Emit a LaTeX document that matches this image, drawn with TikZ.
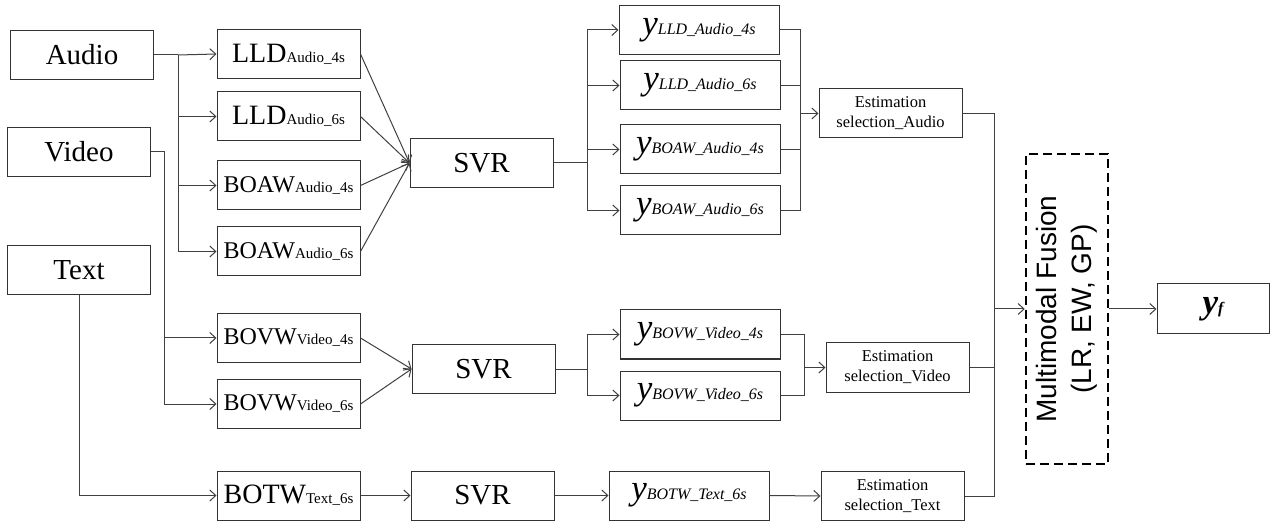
\documentclass[tikz,border=0pt]{standalone}
\usepackage{fontspec}
\setmainfont{Liberation Serif}
\setsansfont{Liberation Sans}
\usetikzlibrary{arrows.meta}

% small text set on the main baseline
\newcommand{\subtxt}[1]{{\fontsize{15}{15}\selectfont #1}}
\newcommand{\ylab}[1]{{\fontsize{35}{35}\selectfont\itshape y}{\fontsize{16}{16}\selectfont\itshape #1}}

\begin{document}
\begin{tikzpicture}[x=1pt, y=-1pt, line width=1pt, color=black!75, >={Straight Barb[length=6pt,width=11pt]},
    every node/.style={draw=black!80, text=black, rectangle, inner sep=0pt, minimum width=143pt, minimum height=49pt},
    src/.style={font=\fontsize{29}{29}\selectfont},
    feat/.style={font=\fontsize{28}{28}\selectfont},
    featb/.style={font=\fontsize{24}{24}\selectfont},
    pred/.style={minimum width=160pt},
    est/.style={align=center, font=\fontsize{16.5}{20}\selectfont}]
    \useasboundingbox (0,0) rectangle (1272,521);

    % inputs
    \node[src] (audio) at (82, 55) {Audio};
    \node[src] (video) at (79, 152) {Video};
    \node[src] (text) at (79, 270) {Text};

    % features
    \node[feat] (lA4) at (288.5, 54) {LLD\subtxt{Audio\_4s}};
    \node[feat] (lA6) at (288.5, 116.5) {LLD\subtxt{Audio\_6s}};
    \node[featb] (bA4) at (288.5, 185.5) {BOAW\subtxt{Audio\_4s}};
    \node[featb] (bA6) at (288.5, 251.5) {BOAW\subtxt{Audio\_6s}};
    \node[featb] (bV4) at (288.5, 338) {BOVW\subtxt{Video\_4s}};
    \node[featb] (bV6) at (288.5, 404) {BOVW\subtxt{Video\_6s}};
    \node[feat] (bT6) at (288.5, 495.5) {BOTW\subtxt{Text\_6s}};

    % regressors
    \node[src] (svrA) at (481.5, 163) {SVR};
    \node[src] (svrV) at (483.5, 369) {SVR};
    \node[src] (svrT) at (482.5, 495.5) {SVR};

    % predictions
    \node[pred] (yA1) at (699, 30) {\ylab{LLD\_Audio\_4s}};
    \node[pred] (yA2) at (700, 85.5) {\ylab{LLD\_Audio\_6s}};
    \node[pred] (yA3) at (700, 149.5) {\ylab{BOAW\_Audio\_4s}};
    \node[pred] (yA4) at (700, 210.5) {\ylab{BOAW\_Audio\_6s}};
    \node[pred] (yV4) at (700, 334.5) {\ylab{BOVW\_Video\_4s}};
    \node[pred] (yV6) at (700, 395.5) {\ylab{BOVW\_Video\_6s}};
    \node[pred] (yT6) at (689, 495.5) {\ylab{BOTW\_Text\_6s}};

    % selection
    \node[est] (estA) at (890.5, 113.5) {Estimation\\selection\_Audio};
    \node[est] (estV) at (897.5, 367.5) {Estimation\\selection\_Video};
    \node[est] (estT) at (892.5, 496) {Estimation\\selection\_Text};

    % fusion and output
    \node[draw=black, line width=2.5pt, dash pattern=on 9pt off 5pt, minimum width=82pt, minimum height=310pt,
      font=\sffamily\fontsize{28}{35}\selectfont] (fuse) at (1067, 309)
      {\rotatebox{90}{\begin{tabular}{@{}c@{}}Multimodal Fusion\\(LR, EW, GP)\end{tabular}}};
    \node[minimum width=112pt, minimum height=50pt, font=\fontsize{35}{35}\selectfont\bfseries\itshape] (yf) at (1213, 309)
      {y\fontsize{16}{16}\selectfont f};

    \coordinate (aS) at (178, 55);
    \coordinate (vS) at (164, 338);
    \coordinate (sA) at (587, 163);
    \coordinate (sV) at (587, 369);
    \coordinate (eA) at (800, 113.5);
    \coordinate (eV) at (804, 367.5);
    \coordinate (m) at (994, 309);

    \draw (audio.east) -- (aS);
    \draw[->] (aS) -- (lA4.west);
    \draw[->] (aS) |- (lA6.west);
    \draw[->] (aS) |- (bA4.west);
    \draw[->] (aS) |- (bA6.west);
    \draw[->] (video.east) -| (vS) -- (bV4.west);
    \draw[->] (vS) |- (bV6.west);
    \draw[->] (text.south) |- (bT6.west);

    \draw[->] (lA4.east) -- (svrA.west);
    \draw[->] (lA6.east) -- (svrA.west);
    \draw[->] (bA4.east) -- (svrA.west);
    \draw[->] (bA6.east) -- (svrA.west);
    \draw[->] (bV4.east) -- (svrV.west);
    \draw[->] (bV6.east) -- (svrV.west);
    \draw[->] (bT6.east) -- (svrT.west);

    \draw (svrA.east) -- (sA);
    \draw[->] (sA) |- (yA1.west);
    \draw[->] (sA) |- (yA2.west);
    \draw[->] (sA) |- (yA3.west);
    \draw[->] (sA) |- (yA4.west);
    \draw (svrV.east) -- (sV);
    \draw[->] (sV) |- (yV4.west);
    \draw[->] (sV) |- (yV6.west);
    \draw[->] (svrT.east) -- (yT6.west);

    \draw (yA1.east) -| (eA);
    \draw (yA2.east) -| (eA);
    \draw (yA3.east) -| (eA);
    \draw (yA4.east) -| (eA);
    \draw[->] (eA) -- (estA.west);
    \draw (yV4.east) -| (eV);
    \draw (yV6.east) -| (eV);
    \draw[->] (eV) -- (estV.west);
    \draw[->] (yT6.east) -- (estT.west);

    \draw (estA.east) -| (m);
    \draw (estV.east) -| (m);
    \draw (estT.east) -| (m);
    \draw[->] (m) -- (fuse.west);
    \draw[->] (fuse.east) -- (yf.west);
  \end{tikzpicture}
\end{document}
